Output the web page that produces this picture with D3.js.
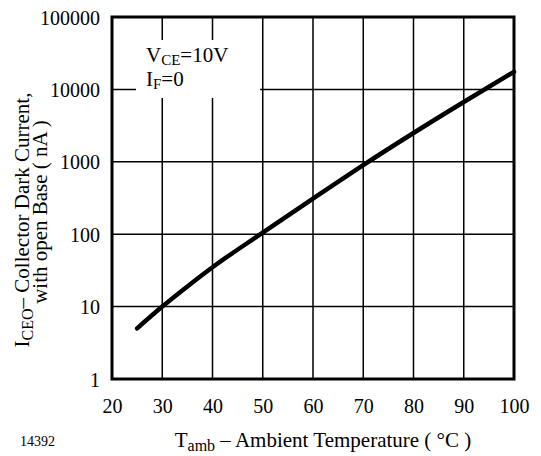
<!DOCTYPE html>
<html>
<head>
<meta charset="UTF-8">
<title>Collector Dark Current</title>
<script src="https://d3js.org/d3.v7.min.js"></script>
<style>
  body { margin: 0; background: #fff; }
  text { font-family: "Liberation Serif", "Times New Roman", serif; fill: #000; }
</style>
</head>
<body>
<div id="chart"></div>
<script>
// data
var temps = [25, 30, 35, 40, 50, 60, 70, 80, 90, 100];
var darkCurrent = [5, 10, 19, 35, 105, 310, 900, 2500, 6700, 17500];
var xTicks = [20, 30, 40, 50, 60, 70, 80, 90, 100];
var yTicks = [1, 10, 100, 1000, 10000, 100000];

var width = 541, height = 456;
// plot area edges (note: "top" is reserved on window, so use plot* names)
var plotL = 112, plotR = 514, plotT = 17, plotB = 379;

var svg = d3.select("#chart").append("svg")
    .attr("width", width)
    .attr("height", height);

var x = d3.scaleLinear().domain([20, 100]).range([plotL, plotR]);
var y = d3.scaleLog().domain([1, 100000]).range([plotB, plotT]);

// grid lines
var grid = svg.append("g").attr("stroke", "#000").attr("stroke-width", 1.5);
grid.selectAll("line.v")
    .data(xTicks.slice(1, -1))
    .enter().append("line")
    .attr("x1", function(d) { return x(d); })
    .attr("x2", function(d) { return x(d); })
    .attr("y1", plotT)
    .attr("y2", plotB);
grid.selectAll("line.h")
    .data(yTicks.slice(1, -1))
    .enter().append("line")
    .attr("x1", plotL)
    .attr("x2", plotR)
    .attr("y1", function(d) { return y(d); })
    .attr("y2", function(d) { return y(d); });

// white box behind the conditions label
svg.append("rect")
    .attr("x", 136).attr("y", 40)
    .attr("width", 124).attr("height", 58)
    .attr("fill", "#fff");

// frame
svg.append("rect")
    .attr("x", plotL).attr("y", plotT)
    .attr("width", plotR - plotL).attr("height", plotB - plotT)
    .attr("fill", "none")
    .attr("stroke", "#000")
    .attr("stroke-width", 3);

// curve
var line = d3.line()
    .x(function(d, i) { return x(temps[i]); })
    .y(function(d) { return y(d); })
    .curve(d3.curveMonotoneX);

svg.append("path")
    .datum(darkCurrent)
    .attr("d", line)
    .attr("fill", "none")
    .attr("stroke", "#000")
    .attr("stroke-width", 4.5)
    .attr("stroke-linecap", "round");

// axes (labels only, frame drawn above)
var xAxis = d3.axisBottom(x).tickValues(xTicks).tickSize(0).tickPadding(0);
var gx = svg.append("g")
    .attr("transform", "translate(0," + plotB + ")")
    .call(xAxis);
gx.select(".domain").remove();
gx.selectAll("text")
    .attr("y", 34)
    .attr("dy", 0)
    .style("font-size", "20px")
    .style("font-family", "Liberation Serif");

var yAxis = d3.axisLeft(y).tickValues(yTicks).tickFormat(d3.format("d")).tickSize(0).tickPadding(0);
var gy = svg.append("g")
    .attr("transform", "translate(" + plotL + ",0)")
    .call(yAxis);
gy.select(".domain").remove();
gy.selectAll("text")
    .attr("x", -12)
    .attr("dy", "0.35em")
    .style("font-size", "20px")
    .style("font-family", "Liberation Serif");

// conditions label
var cond = svg.append("text").attr("x", 146).attr("y", 62).style("font-size", "21px");
cond.append("tspan").text("V");
cond.append("tspan").attr("dy", 3).style("font-size", "15px").text("CE");
cond.append("tspan").attr("dy", -3).text("=10V");
var cond2 = svg.append("text").attr("x", 146).attr("y", 86).style("font-size", "21px");
cond2.append("tspan").text("I");
cond2.append("tspan").attr("dy", 3).style("font-size", "15px").text("F");
cond2.append("tspan").attr("dy", -3).text("=0");

// x axis title
var xt = svg.append("text")
    .attr("x", 323).attr("y", 447)
    .attr("text-anchor", "middle")
    .style("font-size", "21px");
xt.append("tspan").text("T");
xt.append("tspan").attr("dy", 4).style("font-size", "16px").text("amb");
xt.append("tspan").attr("dy", -4).text(" \u2013 Ambient Temperature ( \u00b0C )");

// figure number
svg.append("text")
    .attr("x", 20).attr("y", 446)
    .style("font-size", "14px")
    .text("14392");

// y axis title, two rotated lines
var yt1 = svg.append("text")
    .attr("transform", "translate(29,220) rotate(-90)")
    .attr("text-anchor", "middle")
    .style("font-size", "21px");
yt1.append("tspan").text("I");
yt1.append("tspan").attr("dy", 4).style("font-size", "16px").text("CEO");
yt1.append("tspan").attr("dy", -4).text("\u2013 Collector Dark Current,");

svg.append("text")
    .attr("transform", "translate(47,212) rotate(-90)")
    .attr("text-anchor", "middle")
    .style("font-size", "21px")
    .text("with open Base ( nA )");
</script>
</body>
</html>
